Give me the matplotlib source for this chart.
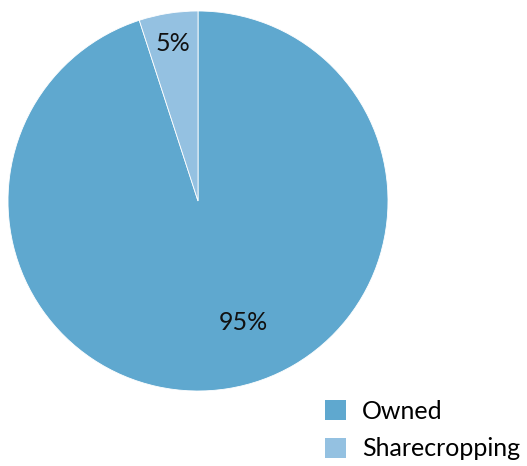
import matplotlib.pyplot as plt
from matplotlib.patches import Patch

plt.rcParams['font.family'] = ['Lato', 'DejaVu Sans']

# land tenure shares
categories = ['Owned', 'Sharecropping']
shares = [95, 5]
colors = ['#5FA8CF', '#94C1E1']

fig = plt.figure(figsize=(5.27, 4.66), dpi=100)
ax = fig.add_axes([8 / 527, 75 / 466, 380 / 527, 380 / 466])

wedges, texts, autotexts = ax.pie(
    shares, colors=colors, startangle=90, counterclock=False,
    autopct='%d%%', pctdistance=0.84, radius=1,
    wedgeprops=dict(linewidth=0.6, edgecolor='white'),
    textprops=dict(fontsize=18, color='#111111'))
# push the big slice's label off-centre
autotexts[0].set_position((0.24, -0.64))
ax.set_xlim(-1, 1)
ax.set_ylim(-1, 1)
ax.set_aspect('equal')

handles = [Patch(facecolor=c, edgecolor='none') for c in colors]
fig.legend(handles, categories, loc='upper left',
           bbox_to_anchor=(305 / 527, 1 - 380 / 466), frameon=False,
           fontsize=18, handlelength=0.85, handleheight=0.85,
           handletextpad=0.64, labelspacing=0.58, borderpad=0.3)

fig.savefig('out.png', dpi=100)
